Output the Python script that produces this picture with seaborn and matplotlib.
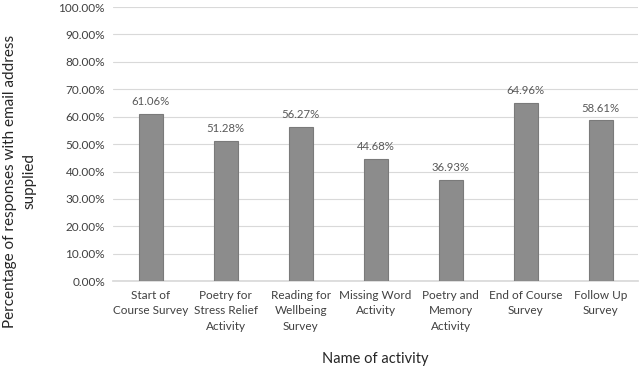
import matplotlib
matplotlib.use("Agg")
import matplotlib.pyplot as plt
import numpy as np
import pandas as pd
import seaborn as sns
from matplotlib.ticker import FuncFormatter, MultipleLocator

activities = [
    "Start of\nCourse Survey",
    "Poetry for\nStress Relief\nActivity",
    "Reading for\nWellbeing\nSurvey",
    "Missing Word\nActivity",
    "Poetry and\nMemory\nActivity",
    "End of Course\nSurvey",
    "Follow Up\nSurvey",
]
pct_email = [61.06, 51.28, 56.27, 44.68, 36.93, 64.96, 58.61]

df = pd.DataFrame({"activity": activities, "pct": pct_email})

sns.set_theme(style="white")
plt.rcParams["font.family"] = ["Lato", "DejaVu Sans"]

fig = plt.figure(figsize=(6.4, 3.69), dpi=100)
ax = fig.add_axes([0.177, 0.238, 0.82, 0.743])

sns.barplot(data=df, x="activity", y="pct", color="#8c8c8c", saturation=1,
            width=0.32, edgecolor="#7a7a7a", linewidth=0.8, ax=ax, zorder=3)

for i, v in enumerate(pct_email):
    ax.text(i, v + 2.5, f"{v:.2f}%", ha="center", va="bottom",
            fontsize=8.2, color="#595959")

ax.set_ylim(0, 100)
ax.set_xlim(-0.5, len(activities) - 0.5)
ax.yaxis.set_major_locator(MultipleLocator(10))
ax.yaxis.set_major_formatter(FuncFormatter(lambda v, p: f"{v:.2f}%"))
ax.grid(axis="y", color="#d9d9d9", linewidth=0.8, zorder=0)
for s in ["top", "right", "left"]:
    ax.spines[s].set_visible(False)
ax.spines["bottom"].set_color("#d9d9d9")
ax.tick_params(axis="both", length=0, labelsize=8.5, colors="#404040", pad=6)
for lbl in ax.get_xticklabels():
    lbl.set_linespacing(1.55)

ax.set_xlabel("Name of activity", fontsize=10.5, color="#262626", labelpad=14)
ax.set_ylabel("Percentage of responses with email address\nsupplied",
              fontsize=11, color="#262626", linespacing=1.45)
ax.yaxis.set_label_coords(-0.147, 0.365)

fig.savefig("out.png", dpi=100)
